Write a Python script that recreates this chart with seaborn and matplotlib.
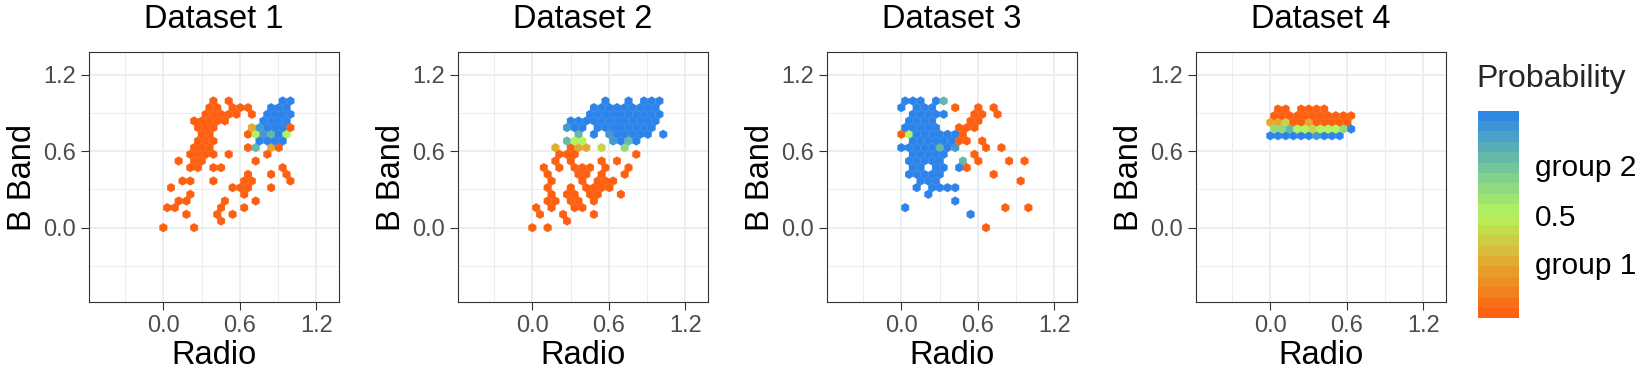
import numpy as np
import pandas as pd
import matplotlib
matplotlib.use('Agg')
import matplotlib.pyplot as plt
import seaborn as sns
from matplotlib.colors import LinearSegmentedColormap, ListedColormap, Normalize
from matplotlib.cm import ScalarMappable

# hexagon size (regular, pointy-top)
ROW_STEP = 0.0523
COL_STEP = ROW_STEP * 2 / np.sqrt(3)

DATASETS  = ['Dataset 1', 'Dataset 2', 'Dataset 3', 'Dataset 4']
RADIO_MIN = [0.0, 0.0, 0.0, 0.0]
BAND_MIN  = [0.0, 0.0, 0.0, 0.721]

# probability of each colour class seen in the hexes
PROB = {'o': 0.02, 'a': 0.27, 'y': 0.40, 'l': 0.50,
        'g': 0.62, 't': 0.78, 'c': 0.90, 'b': 0.99}

# one string per hex row (top row first), one character per hex column
HEX_1 = [
    "......o.o......bb.",
    "......oo.ooo..bbb.",
    ".....ooooo.o.bbbb.",
    "....ooooo....bbbb.",
    "....ooo....acbbbo.",
    ".....oo....olctbl.",
    "....ooo.....bbbb..",
    "....ooo....ot.ao..",
    "...oooo.o....o....",
    "..o.oo......o.....",
    "...oo.oo.......o..",
    "...........o..o.o.",
    "..oo..o...oo....o.",
    ".o.......ooo..o...",
    "...o......o.......",
    "..oo....o...o.....",
    "oo.....o..o.......",
    "...o...o.o........",
    ".......o..........",
    "o...o.............",
]
HEX_2 = [
    ".........b..b.bbb.",
    "........bbbbbbbbb.",
    ".......bbbbbbbbbb.",
    ".....bbbbbbbbbbbb.",
    "....cbb.bbbbbbbb..",
    "......t.b.cbbbbb.b",
    "....tll...cbtb....",
    "...a.oaa.y..g.....",
    "...ooo.......o....",
    "...o.o...o.o......",
    ".o.o.ooo.o..o.....",
    "..o...oo.o..o.....",
    "..o...o.ooo.......",
    "..o..o.oooo.......",
    "..o.oo.oo..o......",
    "..oo.oo.o.........",
    "o.o..oo...........",
    ".o..o...o.........",
    "....o.............",
    "o.o...............",
]
HEX_3 = [
    "bbb.bt............",
    "b.bbb..o..o.o.....",
    ".bbbbb...oo.o.....",
    ".bbbb....oo.......",
    "bbbbb..ooo........",
    "olbbbbbbo.........",
    ".bbbbbboo.o.......",
    "bbbbbtbc...o.o....",
    ".bbbbb...o........",
    ".bbbbb..t.o...o.o.",
    ".bb.bb.bo.........",
    ".bbbbb......o.....",
    "..bbb..........o..",
    "..b.bbbb..........",
    "...b..............",
    ".......b..........",
    "b............o..o.",
    ".........b........",
    "..................",
    "...........o......",
]
HEX_4 = [
    ".oo.oooo...",
    "ooooooooooo",
    "aayooaooooo",
    "ggtllylllgb",
    "bbbbbbcbbb.",
]

CB_TICKS  = [0.265, 0.5, 0.74]
CB_LABELS = ['group 1', '0.5', 'group 2']

CMAP = LinearSegmentedColormap.from_list('prob', [
    (0.00, '#FF5A0F'), (0.26, '#E4A82E'), (0.50, '#B4F45C'),
    (0.74, '#70C29E'), (1.00, '#2A82EC')])


def expand(rows, radio_min, band_min):
    radio, band, prob = [], [], []
    top = len(rows) - 1
    for r, line in enumerate(rows):
        k = top - r
        for i, ch in enumerate(line):
            if ch in PROB:
                radio.append(radio_min + (i + 0.5 * (k % 2)) * COL_STEP)
                band.append(band_min + k * ROW_STEP)
                prob.append(PROB[ch])
    return radio, band, prob


frames = []
for name, rows, x0, y0 in zip(DATASETS, [HEX_1, HEX_2, HEX_3, HEX_4], RADIO_MIN, BAND_MIN):
    radio, band, prob = expand(rows, x0, y0)
    frames.append(pd.DataFrame({'dataset': name, 'Radio': radio,
                                'B Band': band, 'Probability': prob}))
df = pd.concat(frames, ignore_index=True)


def hex_panel(data, **kws):
    ax = plt.gca()
    x0, y0 = data['Radio'].min(), data['B Band'].min()
    ax.hexbin(data['Radio'], data['B Band'], C=data['Probability'],
              reduce_C_function=np.mean, gridsize=(18, 10),
              extent=(x0, x0 + 18 * COL_STEP, y0, y0 + 20 * ROW_STEP),
              cmap=CMAP, vmin=0, vmax=1, edgecolors='face', linewidths=0.2)


sns.set_theme(style='ticks')
plt.rcParams['font.family'] = ['Liberation Sans', 'DejaVu Sans']

g = sns.FacetGrid(df, col='dataset', col_order=DATASETS, sharex=False,
                  sharey=False, despine=False, height=2.5, aspect=1)
g.map_dataframe(hex_panel)

fig = g.figure
fig.set_size_inches(16.45, 3.72)

W, H = 1645.0, 372.0
lefts = [88.7, 457.7, 826.7, 1195.7]
for ax, name, left in zip(g.axes.flat, DATASETS, lefts):
    ax.set_position([left / W, (H - 302.3) / H, 250.6 / W, 250.6 / H])
    ax.set_xlim(-0.585, 1.38)
    ax.set_ylim(-0.585, 1.38)
    ax.set_xticks([0.0, 0.6, 1.2])
    ax.set_yticks([0.0, 0.6, 1.2])
    ax.set_xticklabels(['0.0', '0.6', '1.2'])
    ax.set_yticklabels(['0.0', '0.6', '1.2'])
    ax.set_xticks([-0.3, 0.3, 0.9], minor=True)
    ax.set_yticks([-0.3, 0.3, 0.9], minor=True)
    ax.set_axisbelow(True)
    ax.grid(which='major', color='#ebeeee', linewidth=1.4)
    ax.grid(which='minor', color='#ebeeee', linewidth=0.7)
    ax.tick_params(which='major', length=5.5, width=0.8, color='#333333',
                   labelsize=17, labelcolor='#4d4d4d', pad=4)
    ax.tick_params(which='minor', length=0)
    for s in ax.spines.values():
        s.set_visible(True)
        s.set_color('#333333')
        s.set_linewidth(0.8)
    ax.set_title(name, fontsize=23.5, pad=16.8, color='black')
    ax.set_xlabel('Radio', fontsize=23.5, labelpad=2, color='black')
    ax.set_ylabel('B Band', fontsize=23.5, labelpad=3, color='black')

# colour bar in ggplot style: 20 bands, white ticks on both sides
cax = fig.add_axes([1477.7 / W, (H - 318.3) / H, 41 / W, 207.6 / H])
band_cmap = ListedColormap(CMAP(np.linspace(0.025, 0.975, 20)))
cb = fig.colorbar(ScalarMappable(norm=Normalize(0, 1), cmap=band_cmap), cax=cax)
cb.outline.set_visible(False)
cb.set_ticks(CB_TICKS)
cb.set_ticklabels(CB_LABELS)
cax.tick_params(axis='y', direction='in', left=True, right=True, color='white',
                length=5.5, width=0.9, labelsize=21.5, labelcolor='black', pad=12)
fig.text(1476.7 / W, 1 - 86.7 / H, 'Probability', fontsize=23, va='baseline', ha='left')

fig.savefig('out.png', dpi=100)
